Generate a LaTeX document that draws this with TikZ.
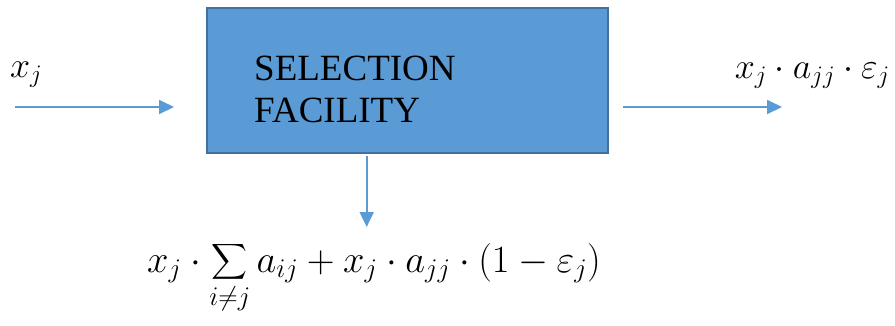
\RequirePackage{fix-cm}
\documentclass[tikz,border=0pt]{standalone}
\usepackage{amsmath}
\usepackage{exscale}
\usepackage[no-math]{fontspec}
\setmainfont{Liberation Serif}
\usetikzlibrary{arrows.meta}
\definecolor{boxfill}{HTML}{5B9BD5}
\definecolor{boxedge}{HTML}{41719C}
\definecolor{arrowc}{HTML}{5B9BD5}
\tikzset{
  flow/.style={draw=arrowc, line width=2pt, -{Triangle[length=15pt,width=14pt]}},
  facility/.style={draw=boxedge, fill=boxfill, line width=1.8pt, minimum width=401pt, minimum height=145pt, inner sep=0pt},
  lbl/.style={inner sep=0pt, font=\fontsize{36}{42}\selectfont},
}
\begin{document}
\begin{tikzpicture}[x=1pt,y=-1pt]
\useasboundingbox (0,0) rectangle (895,325);
\node[facility] (box) at (407.25,80.25) {};
\node[inner sep=0pt, anchor=base west, align=left, font=\fontsize{37}{42}\selectfont] (txt) at (254,122) {SELECTION\\FACILITY};
\coordinate (inS) at (15,107);
\coordinate (inE) at (174,107);
\coordinate (outS) at (623,107);
\coordinate (outE) at (782,107);
\coordinate (dnS) at (366.7,156);
\coordinate (dnE) at (366.7,227);
\draw[flow] (inS) -- (inE);
\draw[flow] (outS) -- (outE);
\draw[flow] (dnS) -- (dnE);
\node[lbl, anchor=base west] (xin) at (10,77) {$x_j$};
\node[lbl, anchor=base east] (xout) at (890,78) {$x_j\cdot a_{jj}\cdot\varepsilon_j$};
\node[lbl, anchor=base west, font=\fontsize{38.5}{44}\selectfont] (xdown) at (147,272) {$\displaystyle x_j\cdot\sum_{i\neq j} a_{ij}+x_j\cdot a_{jj}\cdot(1-\varepsilon_j)$};
\end{tikzpicture}
\end{document}
